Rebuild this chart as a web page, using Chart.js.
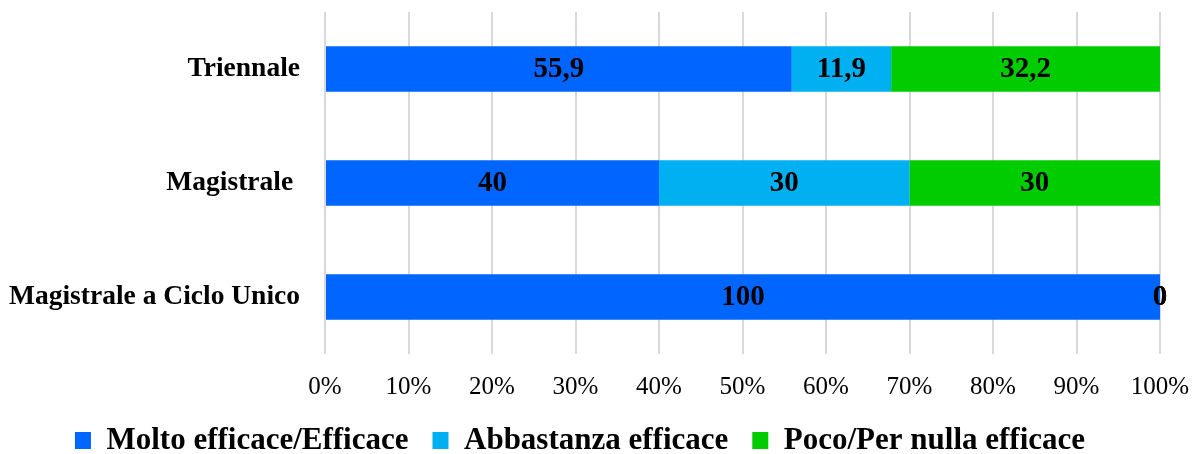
<!DOCTYPE html>
<html>
<head>
<meta charset="utf-8">
<script src="https://cdn.jsdelivr.net/npm/chart.js@4"></script>
<style>
  html, body { margin: 0; padding: 0; background: #fff; }
  #chart { display: block; }
</style>
</head>
<body>
<canvas id="chart" width="1193" height="454"></canvas>
<script>
const categories = ["Triennale", "Magistrale ", "Magistrale a Ciclo Unico"];
const seriesNames = ["Molto efficace/Efficace", "Abbastanza efficace", "Poco/Per nulla efficace"];
const moltoEfficace = [55.9, 40, 100];
const abbastanzaEfficace = [11.9, 30, 0];
const pocoEfficace = [32.2, 30, 0];
const tickValues = [0, 10, 20, 30, 40, 50, 60, 70, 80, 90, 100];

const colors = ["#0066ff", "#00b0f0", "#00cc00"];
const serif = "'Liberation Serif', 'DejaVu Serif', serif";

function formatValue(v) {
  return String(v).replace(".", ",");
}

// draws the number in the middle of each bar segment
const barLabels = {
  id: "barLabels",
  afterDatasetsDraw(chart) {
    const ctx = chart.ctx;
    ctx.save();
    ctx.font = "bold 29px " + serif;
    ctx.fillStyle = "#000";
    ctx.textAlign = "center";
    ctx.textBaseline = "middle";
    chart.data.datasets.forEach((ds, i) => {
      const meta = chart.getDatasetMeta(i);
      meta.data.forEach((bar, j) => {
        const p = bar.getCenterPoint();
        ctx.fillText(formatValue(ds.data[j]), p.x, p.y + 1);
      });
    });
    ctx.restore();
  }
};

new Chart(document.getElementById("chart"), {
  type: "bar",
  data: {
    labels: categories,
    datasets: [
      { label: seriesNames[0], data: moltoEfficace, backgroundColor: colors[0] },
      { label: seriesNames[1], data: abbastanzaEfficace, backgroundColor: colors[1] },
      { label: seriesNames[2], data: pocoEfficace, backgroundColor: colors[2] }
    ]
  },
  options: {
    indexAxis: "y",
    responsive: false,
    animation: false,
    layout: { padding: { top: 12, right: 33, left: 0, bottom: -12 } },
    datasets: {
      bar: { barPercentage: 0.4, categoryPercentage: 1 }
    },
    scales: {
      x: {
        stacked: true,
        min: 0,
        max: 100,
        afterBuildTicks(scale) {
          scale.ticks = tickValues.map(v => ({ value: v }));
        },
        afterFit(scale) {
          scale.height = 47;
          scale.paddingLeft = 0;
          scale.paddingRight = 0;
        },
        border: { display: false },
        grid: { color: "#d9d9d9", lineWidth: 2, drawTicks: false },
        ticks: {
          padding: 18,
          color: "#000",
          font: { family: serif, size: 25 },
          callback: v => v + "%"
        }
      },
      y: {
        stacked: true,
        afterFit(scale) {
          scale.width = 325;
          scale.paddingTop = 0;
          scale.paddingBottom = 0;
        },
        border: { display: false },
        grid: { display: false, drawTicks: false },
        ticks: {
          padding: 25,
          color: "#000",
          font: { family: serif, size: 27.5, weight: "bold" }
        }
      }
    },
    plugins: {
      tooltip: { enabled: false },
      legend: {
        position: "bottom",
        labels: {
          boxWidth: 16,
          boxHeight: 17,
          padding: 24,
          color: "#000",
          font: { family: serif, size: 31, weight: "bold" }
        }
      }
    }
  },
  plugins: [barLabels]
});
</script>
</body>
</html>
